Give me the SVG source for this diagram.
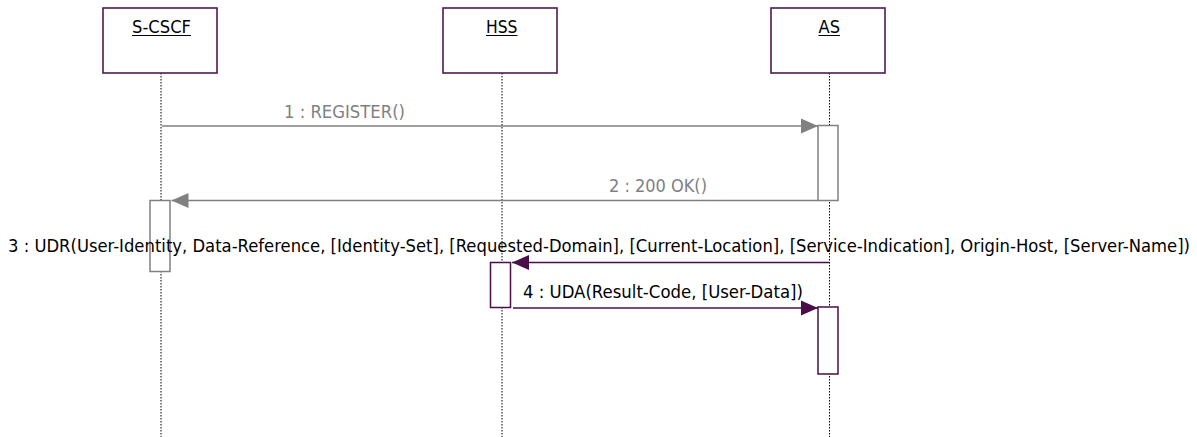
<svg xmlns="http://www.w3.org/2000/svg" width="1197" height="437" viewBox="0 0 1197 437">
<defs>
<style>
.obj{fill:#fff;stroke:#4f1a4f;stroke-width:1.6}
.life{stroke:#000;stroke-width:1;stroke-dasharray:1.5,1.5;fill:none}
.t{font-family:"DejaVu Sans Condensed","DejaVu Sans",sans-serif;font-size:18px}
.name{fill:#000}
.ul{stroke:#000;stroke-width:1}
.gact{fill:#fff;stroke:#808080;stroke-width:1.5}
.pact{fill:#fff;stroke:#4a0f48;stroke-width:1.5}
.gline{stroke:#808080;stroke-width:1.5;fill:none}
.pline{stroke:#4a0f48;stroke-width:1.5;fill:none}
.glabel{fill:#808080}
.plabel{fill:#000}
</style>
<marker id="ag" markerWidth="18" markerHeight="16" refX="17" refY="8" orient="auto" markerUnits="userSpaceOnUse"><path d="M0,0.5 L17,8 L0,15.5 Z" fill="#808080"/></marker>
<marker id="ap" markerWidth="18" markerHeight="16" refX="17" refY="8" orient="auto" markerUnits="userSpaceOnUse"><path d="M0,0.5 L17,8 L0,15.5 Z" fill="#4a0f48"/></marker>
</defs>
<rect width="1197" height="437" fill="#fff"/>
<g id="lifelines">
<line class="life" x1="161" y1="73" x2="161" y2="437"/>
<line class="life" x1="502" y1="73" x2="502" y2="437"/>
<line class="life" x1="829.5" y1="73" x2="829.5" y2="437"/>
</g>
<g id="S-CSCF">
<rect class="obj" x="103" y="8" width="114" height="65"/>
<text class="t name" x="132" y="33" textLength="59" lengthAdjust="spacingAndGlyphs">S-CSCF</text>
<line class="ul" x1="132" y1="35.5" x2="191" y2="35.5"/>
</g>
<g id="HSS">
<rect class="obj" x="443" y="8" width="114" height="65"/>
<text class="t name" x="486" y="33" textLength="31.5" lengthAdjust="spacingAndGlyphs">HSS</text>
<line class="ul" x1="486" y1="35.5" x2="517.5" y2="35.5"/>
</g>
<g id="AS">
<rect class="obj" x="771" y="8" width="114" height="65"/>
<text class="t name" x="818.5" y="33" textLength="21.5" lengthAdjust="spacingAndGlyphs">AS</text>
<line class="ul" x1="818.5" y1="35.5" x2="840" y2="35.5"/>
</g>
<g id="activations">
<rect class="gact" x="818" y="125.5" width="20" height="75"/>
<rect class="gact" x="150" y="200.5" width="20" height="71"/>
<rect class="pact" x="490.5" y="262.5" width="20" height="45"/>
<rect class="pact" x="818" y="307" width="20" height="67"/>
</g>
<g id="connectors">
<line class="gline" x1="162" y1="126" x2="818" y2="126" marker-end="url(#ag)"/>
<line class="gline" x1="818" y1="200.5" x2="171.5" y2="200.5" marker-end="url(#ag)"/>
<line class="pline" x1="829.5" y1="262.5" x2="512" y2="262.5" marker-end="url(#ap)"/>
<line class="pline" x1="513" y1="308" x2="818" y2="308" marker-end="url(#ap)"/>
</g>
<g id="labels">
<text class="t glabel" x="284" y="118" textLength="121" lengthAdjust="spacingAndGlyphs">1 : REGISTER()</text>
<text class="t glabel" x="609" y="192" textLength="98" lengthAdjust="spacingAndGlyphs">2 : 200 OK()</text>
<text class="t plabel" x="8" y="252" textLength="1182" lengthAdjust="spacingAndGlyphs">3 : UDR(User-Identity, Data-Reference, [Identity-Set], [Requested-Domain], [Current-Location], [Service-Indication], Origin-Host, [Server-Name])</text>
<text class="t plabel" x="523" y="298" textLength="280" lengthAdjust="spacingAndGlyphs">4 : UDA(Result-Code, [User-Data])</text>
</g>
</svg>
